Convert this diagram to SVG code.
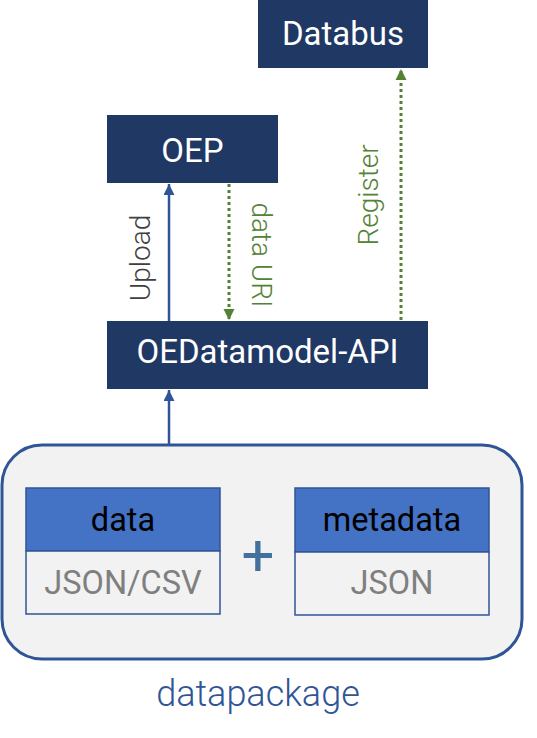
<svg xmlns="http://www.w3.org/2000/svg" width="537" height="738" viewBox="0 0 537 738">
<style>
text{font-family:Roboto,"Liberation Sans",sans-serif;}
.nav{fill:#203864;}
.nt{fill:#ffffff;font-size:33px;text-anchor:middle;}
.hdr{fill:#4472C4;stroke:#2F5597;stroke-width:1.5;}
.bdy{fill:#F2F2F2;stroke:#2F5597;stroke-width:1.5;}
.ht{fill:#000000;font-size:32.5px;text-anchor:middle;}
.bt{fill:#7F7F7F;font-size:32.5px;text-anchor:middle;}
.lbl{font-size:28px;font-weight:300;text-anchor:middle;}
.solid{stroke:#2F5597;stroke-width:2.5;fill:none;}
.dot{stroke:#548235;stroke-width:3;fill:none;stroke-dasharray:3 3;}
</style>
<defs>
<marker id="ab" viewBox="0 0 10 10" refX="10" refY="5" markerWidth="4.4" markerHeight="4.4" orient="auto" markerUnits="strokeWidth"><path d="M0,0 L10,5 L0,10 z" fill="#2F5597"/></marker>
<marker id="ag" viewBox="0 0 10 10" refX="10" refY="5" markerWidth="3.7" markerHeight="3.7" orient="auto" markerUnits="strokeWidth"><path d="M0,0 L10,5 L0,10 z" fill="#548235"/></marker>
</defs>
<g id="datapackage">
<rect x="2" y="445" width="520" height="214" rx="40" ry="40" fill="#F2F2F2" stroke="#2F5597" stroke-width="3"/>
<text x="258" y="706" font-size="36" font-weight="300" fill="#2F5597" text-anchor="middle">datapackage</text>
<text x="258" y="575" font-size="58" fill="#41719C" text-anchor="middle">+</text>
</g>
<g id="data">
<rect class="hdr" x="26" y="488" width="194" height="63"/>
<rect class="bdy" x="26" y="551" width="194" height="63"/>
<text class="ht" x="123" y="531">data</text>
<text class="bt" x="123" y="594">JSON/CSV</text>
</g>
<g id="metadata">
<rect class="hdr" x="295" y="488" width="194" height="64"/>
<rect class="bdy" x="295" y="552" width="194" height="63"/>
<text class="ht" x="392" y="531">metadata</text>
<text class="bt" x="392" y="594">JSON</text>
</g>
<g id="databus">
<rect class="nav" x="258" y="0" width="170" height="68"/>
<text class="nt" x="343" y="45">Databus</text>
</g>
<g id="oep">
<rect class="nav" x="107" y="115" width="171" height="68"/>
<text class="nt" x="192.5" y="162">OEP</text>
</g>
<g id="api">
<rect class="nav" x="107" y="321" width="321" height="68"/>
<text class="nt" x="267.5" y="363">OEDatamodel-API</text>
</g>
<g id="connectors">
<line class="solid" x1="169" y1="445" x2="169" y2="390" marker-end="url(#ab)"/>
<line class="solid" x1="169" y1="321" x2="169" y2="184" marker-end="url(#ab)"/>
<line class="dot" x1="229" y1="184" x2="229" y2="320" marker-end="url(#ag)"/>
<line class="dot" x1="401" y1="320" x2="401" y2="69" marker-end="url(#ag)"/>
<text class="lbl" transform="translate(150,258) rotate(-90)" fill="#404040">Upload</text>
<text class="lbl" transform="translate(252,255) rotate(90)" fill="#548235">data URI</text>
<text class="lbl" transform="translate(378,195) rotate(-90)" fill="#548235">Register</text>
</g>
</svg>
